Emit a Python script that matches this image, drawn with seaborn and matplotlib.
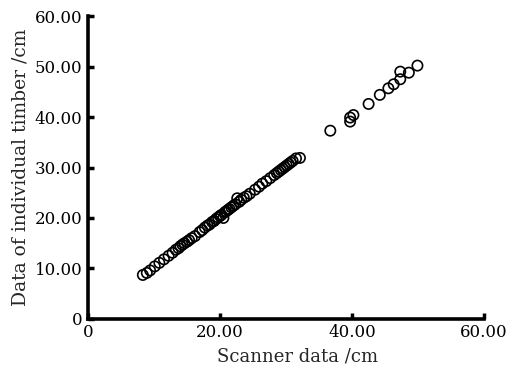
import matplotlib
matplotlib.use("Agg")
import matplotlib.pyplot as plt
import seaborn as sns
import pandas as pd

# -----------------------------
# Data
# -----------------------------
scanner = [8.3, 8.9, 9.4, 10.1, 10.8, 11.5, 12.2, 12.8, 13.3, 13.7,
           14.0, 14.3, 14.6, 15.0, 15.3, 15.7, 16.2, 16.9, 17.3, 17.7,
           18.1, 18.4, 18.8, 19.1, 19.4, 19.7, 20.0, 20.2, 20.5, 20.7,
           20.9, 21.2, 21.4, 21.7, 22.0, 22.3, 22.6, 22.9, 23.2, 23.6,
           24.0, 24.5, 25.3, 25.9, 26.4, 27.0, 27.6, 28.2, 28.6, 28.9,
           29.2, 29.5, 29.8, 30.1, 30.4, 30.7, 31.0, 31.5, 32.1,
           36.7, 39.7, 39.7, 40.2, 42.5, 44.2, 45.5, 46.3, 47.3, 47.3,
           48.6, 49.9]
timber = [8.7, 9.1, 9.6, 10.4, 11.1, 11.8, 12.5, 13.1, 13.7, 14.0,
          14.4, 14.7, 15.0, 15.3, 15.6, 16.0, 16.4, 17.2, 17.6, 18.1,
          18.5, 18.7, 19.2, 19.4, 19.8, 20.1, 20.4, 20.6, 20.0, 21.1,
          21.3, 21.6, 21.8, 22.1, 22.4, 22.7, 23.9, 23.2, 23.6, 24.0,
          24.3, 24.8, 25.6, 26.2, 26.8, 27.3, 27.9, 28.5, 28.9, 29.2,
          29.5, 29.8, 30.1, 30.4, 30.7, 31.0, 31.3, 31.8, 31.9,
          37.3, 39.9, 39.1, 40.4, 42.6, 44.4, 45.7, 46.5, 47.5, 49.0,
          48.8, 50.2]
ticks = [0, 20, 40, 60]
yticks = [0, 10, 20, 30, 40, 50, 60]

df = pd.DataFrame({"scanner": scanner, "timber": timber})

# -----------------------------
# Plot
# -----------------------------
sns.set_style("white")
plt.rcParams["font.family"] = ["DejaVu Serif"]

fig = plt.figure(figsize=(5.15, 3.76), dpi=100)
ax = fig.add_axes([0.171, 0.152, 0.769, 0.805])

sns.scatterplot(
    data=df, x="scanner", y="timber", ax=ax,
    marker="o", s=55, facecolor="none", edgecolor="black", linewidth=1.2
)

ax.set_xlim(0, 60)
ax.set_ylim(0, 60)
ax.set_xticks(ticks)
ax.set_yticks(yticks)
ax.set_xticklabels(["0" if t == 0 else f"{t:.2f}" for t in ticks])
ax.set_yticklabels(["0" if t == 0 else f"{t:.2f}" for t in yticks])

for side in ["top", "right"]:
    ax.spines[side].set_visible(False)
for side in ["left", "bottom"]:
    ax.spines[side].set_linewidth(2.6)
    ax.spines[side].set_color("black")

ax.tick_params(direction="in", length=4, width=2.5, labelsize=12, pad=4,
               colors="black", bottom=True, left=True)

ax.set_xlabel("Scanner data /cm", fontsize=13, labelpad=2)
ax.xaxis.set_label_coords(0.53, -0.095)
ax.set_ylabel("Data of individual timber /cm", fontsize=13.5, labelpad=4)

fig.savefig("out.png", dpi=100)
plt.close()
